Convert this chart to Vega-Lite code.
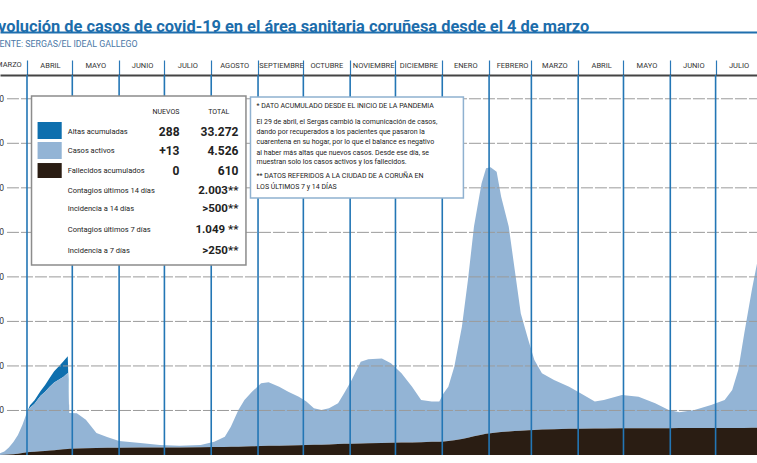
{
  "$schema": "https://vega.github.io/schema/vega-lite/v6.json",
  "width": 757,
  "height": 380,
  "autosize": {"type": "none"},
  "padding": {"top": 75, "left": 0, "right": 0, "bottom": 8},
  "background": "white",
  "config": {"view": {"stroke": null}, "font": "Roboto"},
  "title": {
    "text": "Evolución de casos de covid-19 en el área sanitaria coruñesa desde el 4 de marzo",
    "subtitle": "FUENTE: SERGAS/EL IDEAL GALLEGO",
    "anchor": "start",
    "frame": "group",
    "orient": "top",
    "offset": -17,
    "dx": -11,
    "font": "Roboto",
    "fontSize": 16.4,
    "fontWeight": "bold",
    "color": "#1c6dab",
    "subtitleFont": "Roboto",
    "subtitleFontSize": 8.8,
    "subtitleColor": "#4a78a6",
    "subtitlePadding": 5
  },
  "datasets": {
    "evolucion": [
      {"fecha": "2020-03-04", "fallecidos_acumulados": 0, "casos_activos": 5, "altas_acumuladas": 0},
      {"fecha": "2020-03-10", "fallecidos_acumulados": 0, "casos_activos": 20, "altas_acumuladas": 0},
      {"fecha": "2020-03-14", "fallecidos_acumulados": 1, "casos_activos": 39, "altas_acumuladas": 0},
      {"fecha": "2020-03-17", "fallecidos_acumulados": 3, "casos_activos": 77, "altas_acumuladas": 0},
      {"fecha": "2020-03-20", "fallecidos_acumulados": 10, "casos_activos": 160, "altas_acumuladas": 0},
      {"fecha": "2020-03-23", "fallecidos_acumulados": 18, "casos_activos": 272, "altas_acumuladas": 0},
      {"fecha": "2020-03-26", "fallecidos_acumulados": 30, "casos_activos": 420, "altas_acumuladas": 0},
      {"fecha": "2020-03-29", "fallecidos_acumulados": 45, "casos_activos": 635, "altas_acumuladas": 0},
      {"fecha": "2020-04-01", "fallecidos_acumulados": 60, "casos_activos": 900, "altas_acumuladas": 0},
      {"fecha": "2020-04-03", "fallecidos_acumulados": 65, "casos_activos": 995, "altas_acumuladas": 60},
      {"fecha": "2020-04-06", "fallecidos_acumulados": 72, "casos_activos": 1078, "altas_acumuladas": 80},
      {"fecha": "2020-04-10", "fallecidos_acumulados": 82, "casos_activos": 1248, "altas_acumuladas": 110},
      {"fecha": "2020-04-13", "fallecidos_acumulados": 90, "casos_activos": 1330, "altas_acumuladas": 150},
      {"fecha": "2020-04-16", "fallecidos_acumulados": 100, "casos_activos": 1430, "altas_acumuladas": 200},
      {"fecha": "2020-04-19", "fallecidos_acumulados": 108, "casos_activos": 1522, "altas_acumuladas": 250},
      {"fecha": "2020-04-22", "fallecidos_acumulados": 118, "casos_activos": 1572, "altas_acumuladas": 300},
      {"fecha": "2020-04-25", "fallecidos_acumulados": 128, "casos_activos": 1622, "altas_acumuladas": 350},
      {"fecha": "2020-04-28", "fallecidos_acumulados": 135, "casos_activos": 1705, "altas_acumuladas": 380},
      {"fecha": "2020-04-29", "fallecidos_acumulados": 138, "casos_activos": 807, "altas_acumuladas": 0},
      {"fecha": "2020-05-04", "fallecidos_acumulados": 145, "casos_activos": 795, "altas_acumuladas": 0},
      {"fecha": "2020-05-10", "fallecidos_acumulados": 152, "casos_activos": 638, "altas_acumuladas": 0},
      {"fecha": "2020-05-17", "fallecidos_acumulados": 158, "casos_activos": 337, "altas_acumuladas": 0},
      {"fecha": "2020-05-24", "fallecidos_acumulados": 162, "casos_activos": 243, "altas_acumuladas": 0},
      {"fecha": "2020-06-01", "fallecidos_acumulados": 165, "casos_activos": 150, "altas_acumuladas": 0},
      {"fecha": "2020-06-15", "fallecidos_acumulados": 167, "casos_activos": 103, "altas_acumuladas": 0},
      {"fecha": "2020-06-28", "fallecidos_acumulados": 168, "casos_activos": 57, "altas_acumuladas": 0},
      {"fecha": "2020-07-11", "fallecidos_acumulados": 170, "casos_activos": 40, "altas_acumuladas": 0},
      {"fecha": "2020-07-25", "fallecidos_acumulados": 175, "casos_activos": 50, "altas_acumuladas": 0},
      {"fecha": "2020-08-03", "fallecidos_acumulados": 180, "casos_activos": 120, "altas_acumuladas": 0},
      {"fecha": "2020-08-10", "fallecidos_acumulados": 182, "casos_activos": 228, "altas_acumuladas": 0},
      {"fecha": "2020-08-14", "fallecidos_acumulados": 184, "casos_activos": 452, "altas_acumuladas": 0},
      {"fecha": "2020-08-19", "fallecidos_acumulados": 186, "casos_activos": 824, "altas_acumuladas": 0},
      {"fecha": "2020-08-23", "fallecidos_acumulados": 190, "casos_activos": 1045, "altas_acumuladas": 0},
      {"fecha": "2020-08-28", "fallecidos_acumulados": 195, "casos_activos": 1225, "altas_acumuladas": 0},
      {"fecha": "2020-09-03", "fallecidos_acumulados": 200, "casos_activos": 1410, "altas_acumuladas": 0},
      {"fecha": "2020-09-08", "fallecidos_acumulados": 205, "casos_activos": 1430, "altas_acumuladas": 0},
      {"fecha": "2020-09-15", "fallecidos_acumulados": 210, "casos_activos": 1325, "altas_acumuladas": 0},
      {"fecha": "2020-09-21", "fallecidos_acumulados": 215, "casos_activos": 1205, "altas_acumuladas": 0},
      {"fecha": "2020-09-28", "fallecidos_acumulados": 220, "casos_activos": 1090, "altas_acumuladas": 0},
      {"fecha": "2020-10-03", "fallecidos_acumulados": 225, "casos_activos": 975, "altas_acumuladas": 0},
      {"fecha": "2020-10-08", "fallecidos_acumulados": 230, "casos_activos": 820, "altas_acumuladas": 0},
      {"fecha": "2020-10-13", "fallecidos_acumulados": 232, "casos_activos": 778, "altas_acumuladas": 0},
      {"fecha": "2020-10-18", "fallecidos_acumulados": 236, "casos_activos": 814, "altas_acumuladas": 0},
      {"fecha": "2020-10-24", "fallecidos_acumulados": 245, "casos_activos": 915, "altas_acumuladas": 0},
      {"fecha": "2020-10-28", "fallecidos_acumulados": 250, "casos_activos": 1135, "altas_acumuladas": 0},
      {"fecha": "2020-11-02", "fallecidos_acumulados": 255, "casos_activos": 1430, "altas_acumuladas": 0},
      {"fecha": "2020-11-08", "fallecidos_acumulados": 260, "casos_activos": 1835, "altas_acumuladas": 0},
      {"fecha": "2020-11-13", "fallecidos_acumulados": 264, "casos_activos": 1886, "altas_acumuladas": 0},
      {"fecha": "2020-11-22", "fallecidos_acumulados": 270, "casos_activos": 1900, "altas_acumuladas": 0},
      {"fecha": "2020-11-28", "fallecidos_acumulados": 274, "casos_activos": 1786, "altas_acumuladas": 0},
      {"fecha": "2020-12-05", "fallecidos_acumulados": 278, "casos_activos": 1557, "altas_acumuladas": 0},
      {"fecha": "2020-12-12", "fallecidos_acumulados": 283, "casos_activos": 1252, "altas_acumuladas": 0},
      {"fecha": "2020-12-18", "fallecidos_acumulados": 288, "casos_activos": 947, "altas_acumuladas": 0},
      {"fecha": "2020-12-25", "fallecidos_acumulados": 295, "casos_activos": 905, "altas_acumuladas": 0},
      {"fecha": "2020-12-30", "fallecidos_acumulados": 300, "casos_activos": 900, "altas_acumuladas": 0},
      {"fecha": "2021-01-02", "fallecidos_acumulados": 305, "casos_activos": 1085, "altas_acumuladas": 0},
      {"fecha": "2021-01-05", "fallecidos_acumulados": 315, "casos_activos": 1220, "altas_acumuladas": 0},
      {"fecha": "2021-01-09", "fallecidos_acumulados": 330, "casos_activos": 1655, "altas_acumuladas": 0},
      {"fecha": "2021-01-14", "fallecidos_acumulados": 360, "casos_activos": 2520, "altas_acumuladas": 0},
      {"fecha": "2021-01-18", "fallecidos_acumulados": 390, "casos_activos": 3540, "altas_acumuladas": 0},
      {"fecha": "2021-01-22", "fallecidos_acumulados": 420, "casos_activos": 4710, "altas_acumuladas": 0},
      {"fecha": "2021-01-27", "fallecidos_acumulados": 455, "casos_activos": 5645, "altas_acumuladas": 0},
      {"fecha": "2021-01-30", "fallecidos_acumulados": 475, "casos_activos": 5965, "altas_acumuladas": 0},
      {"fecha": "2021-02-02", "fallecidos_acumulados": 490, "casos_activos": 5970, "altas_acumuladas": 0},
      {"fecha": "2021-02-06", "fallecidos_acumulados": 505, "casos_activos": 5855, "altas_acumuladas": 0},
      {"fecha": "2021-02-09", "fallecidos_acumulados": 515, "casos_activos": 5285, "altas_acumuladas": 0},
      {"fecha": "2021-02-14", "fallecidos_acumulados": 528, "casos_activos": 4602, "altas_acumuladas": 0},
      {"fecha": "2021-02-18", "fallecidos_acumulados": 538, "casos_activos": 3617, "altas_acumuladas": 0},
      {"fecha": "2021-02-22", "fallecidos_acumulados": 545, "casos_activos": 2635, "altas_acumuladas": 0},
      {"fecha": "2021-02-27", "fallecidos_acumulados": 555, "casos_activos": 2030, "altas_acumuladas": 0},
      {"fecha": "2021-03-03", "fallecidos_acumulados": 562, "casos_activos": 1573, "altas_acumuladas": 0},
      {"fecha": "2021-03-08", "fallecidos_acumulados": 570, "casos_activos": 1265, "altas_acumuladas": 0},
      {"fecha": "2021-03-16", "fallecidos_acumulados": 580, "casos_activos": 1105, "altas_acumuladas": 0},
      {"fecha": "2021-03-26", "fallecidos_acumulados": 588, "casos_activos": 947, "altas_acumuladas": 0},
      {"fecha": "2021-04-02", "fallecidos_acumulados": 592, "casos_activos": 808, "altas_acumuladas": 0},
      {"fecha": "2021-04-12", "fallecidos_acumulados": 595, "casos_activos": 605, "altas_acumuladas": 0},
      {"fecha": "2021-04-18", "fallecidos_acumulados": 597, "casos_activos": 638, "altas_acumuladas": 0},
      {"fecha": "2021-04-30", "fallecidos_acumulados": 598, "casos_activos": 752, "altas_acumuladas": 0},
      {"fecha": "2021-05-11", "fallecidos_acumulados": 600, "casos_activos": 710, "altas_acumuladas": 0},
      {"fecha": "2021-05-22", "fallecidos_acumulados": 602, "casos_activos": 558, "altas_acumuladas": 0},
      {"fecha": "2021-05-31", "fallecidos_acumulados": 603, "casos_activos": 407, "altas_acumuladas": 0},
      {"fecha": "2021-06-07", "fallecidos_acumulados": 604, "casos_activos": 356, "altas_acumuladas": 0},
      {"fecha": "2021-06-17", "fallecidos_acumulados": 605, "casos_activos": 405, "altas_acumuladas": 0},
      {"fecha": "2021-06-28", "fallecidos_acumulados": 606, "casos_activos": 519, "altas_acumuladas": 0},
      {"fecha": "2021-07-07", "fallecidos_acumulados": 607, "casos_activos": 628, "altas_acumuladas": 0},
      {"fecha": "2021-07-12", "fallecidos_acumulados": 608, "casos_activos": 852, "altas_acumuladas": 0},
      {"fecha": "2021-07-16", "fallecidos_acumulados": 608, "casos_activos": 1302, "altas_acumuladas": 0},
      {"fecha": "2021-07-20", "fallecidos_acumulados": 609, "casos_activos": 2126, "altas_acumuladas": 0},
      {"fecha": "2021-07-25", "fallecidos_acumulados": 610, "casos_activos": 3095, "altas_acumuladas": 0},
      {"fecha": "2021-07-29", "fallecidos_acumulados": 610, "casos_activos": 3790, "altas_acumuladas": 0},
      {"fecha": "2021-08-02", "fallecidos_acumulados": 610, "casos_activos": 4526, "altas_acumuladas": 0}
    ],
    "rejilla": [
      {"v": 1000, "etiqueta": "1.000"}, {"v": 2000, "etiqueta": "2.000"}, {"v": 3000, "etiqueta": "3.000"},
      {"v": 4000, "etiqueta": "4.000"}, {"v": 5000, "etiqueta": "5.000"}, {"v": 6000, "etiqueta": "6.000"},
      {"v": 7000, "etiqueta": "7.000"}, {"v": 8000, "etiqueta": "8.000"}
    ],
    "meses": [
      {"inicio": "2020-04-01"}, {"inicio": "2020-05-01"}, {"inicio": "2020-06-01"}, {"inicio": "2020-07-01"},
      {"inicio": "2020-08-01"}, {"inicio": "2020-09-01"}, {"inicio": "2020-10-01"}, {"inicio": "2020-11-01"},
      {"inicio": "2020-12-01"}, {"inicio": "2021-01-01"}, {"inicio": "2021-02-01"}, {"inicio": "2021-03-01"},
      {"inicio": "2021-04-01"}, {"inicio": "2021-05-01"}, {"inicio": "2021-06-01"}, {"inicio": "2021-07-01"}
    ],
    "mes_inicial": [{"fecha": "2020-03-20", "v": 8668, "texto": "MARZO"}],
    "cajas": [
      {"caja": "leyenda", "desde": "2020-04-04", "hasta": "2020-08-24", "arriba": 8062, "abajo": 4267},
      {"caja": "nota", "desde": "2020-08-27", "hasta": "2021-01-15", "arriba": 8040, "abajo": 5771}
    ],
    "muestras": [
      {"serie": "altas_acumuladas", "desde": "2020-04-08", "hasta": "2020-04-24", "arriba": 7478, "abajo": 7096},
      {"serie": "casos_activos", "desde": "2020-04-08", "hasta": "2020-04-24", "arriba": 7029, "abajo": 6647},
      {"serie": "fallecidos_acumulados", "desde": "2020-04-08", "hasta": "2020-04-24", "arriba": 6557, "abajo": 6221}
    ],
    "etiquetas": [
      {"fecha": "2020-04-28", "v": 7265, "texto": "Altas acumuladas"},
      {"fecha": "2020-04-28", "v": 6838, "texto": "Casos activos"},
      {"fecha": "2020-04-28", "v": 6389, "texto": "Fallecidos acumulados"},
      {"fecha": "2020-04-28", "v": 5940, "texto": "Contagios últimos 14 días"},
      {"fecha": "2020-04-28", "v": 5524, "texto": "Incidencia a 14 días"},
      {"fecha": "2020-04-28", "v": 5042, "texto": "Contagios últimos 7 días"},
      {"fecha": "2020-04-28", "v": 4592, "texto": "Incidencia a 7 días"}
    ],
    "cabeceras": [
      {"fecha": "2020-07-02", "v": 7703, "texto": "NUEVOS", "alinea": "center"},
      {"fecha": "2020-08-13", "v": 7703, "texto": "TOTAL", "alinea": "right"}
    ],
    "cifras": [
      {"fecha": "2020-07-11", "v": 7265, "texto": "288"},
      {"fecha": "2020-07-11", "v": 6838, "texto": "+13"},
      {"fecha": "2020-07-11", "v": 6389, "texto": "0"},
      {"fecha": "2020-08-19", "v": 7265, "texto": "33.272"},
      {"fecha": "2020-08-19", "v": 6838, "texto": "4.526"},
      {"fecha": "2020-08-19", "v": 6389, "texto": "610"}
    ],
    "indicadores": [
      {"fecha": "2020-08-19", "v": 5940, "texto": "2.003**"},
      {"fecha": "2020-08-19", "v": 5524, "texto": ">500**"},
      {"fecha": "2020-08-19", "v": 5042, "texto": "1.049 **"},
      {"fecha": "2020-08-19", "v": 4592, "texto": ">250**"}
    ],
    "nota": [
      {"fecha": "2020-08-31", "v": 7838, "texto": "* DATO ACUMULADO DESDE EL INICIO DE LA PANDEMIA"},
      {"fecha": "2020-08-31", "v": 7485, "texto": "El 29 de abril, el Sergas cambió la comunicación de casos,"},
      {"fecha": "2020-08-31", "v": 7254, "texto": "dando por recuperados a los pacientes que pasaron la"},
      {"fecha": "2020-08-31", "v": 7022, "texto": "cuarentena en su hogar, por lo que el balance es negativo"},
      {"fecha": "2020-08-31", "v": 6793, "texto": "al haber más altas que nuevos casos. Desde ese día, se"},
      {"fecha": "2020-08-31", "v": 6580, "texto": "muestran solo los casos activos y los fallecidos."},
      {"fecha": "2020-08-31", "v": 6266, "texto": "** DATOS REFERIDOS A LA CIUDAD DE A CORUÑA EN"},
      {"fecha": "2020-08-31", "v": 6025, "texto": "LOS ÚLTIMOS 7 y 14 DÍAS"}
    ]
  },
  "resolve": {"axis": {"x": "independent"}},
  "layer": [
    {
      "data": {"name": "evolucion"},
      "transform": [{"fold": ["altas_acumuladas", "casos_activos", "fallecidos_acumulados"], "as": ["serie", "valor"]}],
      "mark": {"type": "area", "clip": true, "interpolate": "linear"},
      "encoding": {
        "x": {
          "field": "fecha", "type": "temporal",
          "scale": {"type": "utc", "domain": [{"year": 2020, "month": 3, "date": 14, "hours": 3, "utc": true}, {"year": 2021, "month": 7, "date": 28, "hours": 10, "utc": true}]},
          "axis": {
            "orient": "top", "title": null, "grid": false,
            "values": [
              {"year": 2020, "month": 4, "date": 1, "utc": true},
              {"year": 2020, "month": 5, "date": 1, "utc": true}, {"year": 2020, "month": 6, "date": 1, "utc": true},
              {"year": 2020, "month": 7, "date": 1, "utc": true}, {"year": 2020, "month": 8, "date": 1, "utc": true},
              {"year": 2020, "month": 9, "date": 1, "utc": true}, {"year": 2020, "month": 10, "date": 1, "utc": true},
              {"year": 2020, "month": 11, "date": 1, "utc": true}, {"year": 2020, "month": 12, "date": 1, "utc": true},
              {"year": 2021, "month": 1, "date": 1, "utc": true}, {"year": 2021, "month": 2, "date": 1, "utc": true},
              {"year": 2021, "month": 3, "date": 1, "utc": true}, {"year": 2021, "month": 4, "date": 1, "utc": true},
              {"year": 2021, "month": 5, "date": 1, "utc": true}, {"year": 2021, "month": 6, "date": 1, "utc": true},
              {"year": 2021, "month": 7, "date": 1, "utc": true}
            ],
            "labelExpr": "['ENERO','FEBRERO','MARZO','ABRIL','MAYO','JUNIO','JULIO','AGOSTO','SEPTIEMBRE','OCTUBRE','NOVIEMBRE','DICIEMBRE'][utcmonth(datum.value)]",
            "labelOffset": 23, "labelPadding": -9, "labelOverlap": false, "labelFlush": false, "labelBound": false,
            "labelFont": "Roboto", "labelFontSize": 7.5, "labelColor": "#333333",
            "domain": true, "domainColor": "#444444", "domainWidth": 2,
            "ticks": true, "tickSize": 15, "tickColor": "#2a78b8", "tickWidth": 1.2
          }
        },
        "y": {
          "field": "valor", "type": "quantitative", "stack": "zero",
          "scale": {"domain": [0, 8534], "nice": false, "zero": true},
          "axis": null
        },
        "color": {
          "field": "serie", "type": "nominal",
          "scale": {"domain": ["altas_acumuladas", "casos_activos", "fallecidos_acumulados"], "range": ["#0e6fae", "#93b4d5", "#2a1d13"]},
          "legend": null
        },
        "order": {"field": "serie", "sort": "descending"}
      }
    },
    {
      "data": {"name": "rejilla"},
      "mark": {"type": "rule", "color": "#9b9b9b", "strokeWidth": 1, "strokeDash": [12, 2]},
      "encoding": {
        "x": {"datum": {"year": 2020, "month": 3, "date": 18, "hours": 18, "utc": true}, "type": "temporal", "axis": null},
        "x2": {"datum": {"year": 2021, "month": 7, "date": 29, "utc": true}},
        "y": {"field": "v", "type": "quantitative", "axis": null}
      }
    },
    {
      "data": {"name": "rejilla"},
      "mark": {"type": "text", "align": "right", "baseline": "middle", "font": "Roboto", "fontSize": 8.5, "color": "#333333"},
      "encoding": {
        "x": {"datum": {"year": 2020, "month": 3, "date": 16, "hours": 20, "utc": true}, "type": "temporal", "axis": null},
        "y": {"field": "v", "type": "quantitative", "axis": null},
        "text": {"field": "etiqueta"}
      }
    },
    {
      "data": {"name": "meses"},
      "mark": {"type": "rule", "color": "#2376b5", "strokeWidth": 1.6},
      "encoding": {
        "x": {
          "field": "inicio", "type": "temporal",
          "axis": {"orient": "top", "offset": 43, "title": null, "labels": false, "ticks": false, "grid": false, "domain": true, "domainColor": "#1f6fae", "domainWidth": 2}
        }
      }
    },
    {
      "mark": {"type": "rule", "color": "#1f6fae", "strokeWidth": 3},
      "encoding": {"y": {"datum": 0, "type": "quantitative", "axis": null}}
    },
    {
      "data": {"name": "mes_inicial"},
      "mark": {"type": "text", "align": "center", "baseline": "bottom", "font": "Roboto", "fontSize": 7.5, "color": "#333333"},
      "encoding": {
        "x": {"field": "fecha", "type": "temporal", "axis": null},
        "y": {"field": "v", "type": "quantitative", "axis": null},
        "text": {"field": "texto"}
      }
    },
    {
      "data": {"name": "cajas"},
      "mark": {"type": "rect", "fill": "white", "strokeWidth": 1.5},
      "encoding": {
        "x": {"field": "desde", "type": "temporal", "axis": null},
        "x2": {"field": "hasta"},
        "y": {"field": "arriba", "type": "quantitative", "axis": null},
        "y2": {"field": "abajo"},
        "stroke": {"field": "caja", "type": "nominal", "scale": {"domain": ["leyenda", "nota"], "range": ["#8c8c8c", "#8fb1d0"]}, "legend": null}
      }
    },
    {
      "data": {"name": "muestras"},
      "mark": {"type": "rect"},
      "encoding": {
        "x": {"field": "desde", "type": "temporal", "axis": null},
        "x2": {"field": "hasta"},
        "y": {"field": "arriba", "type": "quantitative", "axis": null},
        "y2": {"field": "abajo"},
        "color": {"field": "serie", "type": "nominal", "legend": null}
      }
    },
    {
      "data": {"name": "etiquetas"},
      "mark": {"type": "text", "align": "left", "baseline": "middle", "font": "Roboto", "fontSize": 7.5, "color": "#222222"},
      "encoding": {
        "x": {"field": "fecha", "type": "temporal", "axis": null},
        "y": {"field": "v", "type": "quantitative", "axis": null},
        "text": {"field": "texto"}
      }
    },
    {
      "data": {"name": "cabeceras"},
      "transform": [{"filter": "datum.alinea == 'center'"}],
      "mark": {"type": "text", "align": "center", "baseline": "middle", "font": "Roboto", "fontSize": 7, "color": "#222222"},
      "encoding": {
        "x": {"field": "fecha", "type": "temporal", "axis": null},
        "y": {"field": "v", "type": "quantitative", "axis": null},
        "text": {"field": "texto"}
      }
    },
    {
      "data": {"name": "cabeceras"},
      "transform": [{"filter": "datum.alinea == 'right'"}],
      "mark": {"type": "text", "align": "right", "baseline": "middle", "font": "Roboto", "fontSize": 7, "color": "#222222"},
      "encoding": {
        "x": {"field": "fecha", "type": "temporal", "axis": null},
        "y": {"field": "v", "type": "quantitative", "axis": null},
        "text": {"field": "texto"}
      }
    },
    {
      "data": {"name": "cifras"},
      "mark": {"type": "text", "align": "right", "baseline": "middle", "font": "Roboto", "fontSize": 12, "fontWeight": "bold", "color": "#222222"},
      "encoding": {
        "x": {"field": "fecha", "type": "temporal", "axis": null},
        "y": {"field": "v", "type": "quantitative", "axis": null},
        "text": {"field": "texto"}
      }
    },
    {
      "data": {"name": "indicadores"},
      "mark": {"type": "text", "align": "right", "baseline": "middle", "font": "Roboto", "fontSize": 11.5, "fontWeight": "bold", "color": "#222222"},
      "encoding": {
        "x": {"field": "fecha", "type": "temporal", "axis": null},
        "y": {"field": "v", "type": "quantitative", "axis": null},
        "text": {"field": "texto"}
      }
    },
    {
      "data": {"name": "nota"},
      "mark": {"type": "text", "align": "left", "baseline": "middle", "font": "Roboto", "fontSize": 7, "color": "#222222"},
      "encoding": {
        "x": {"field": "fecha", "type": "temporal", "axis": null},
        "y": {"field": "v", "type": "quantitative", "axis": null},
        "text": {"field": "texto"}
      }
    }
  ]
}
